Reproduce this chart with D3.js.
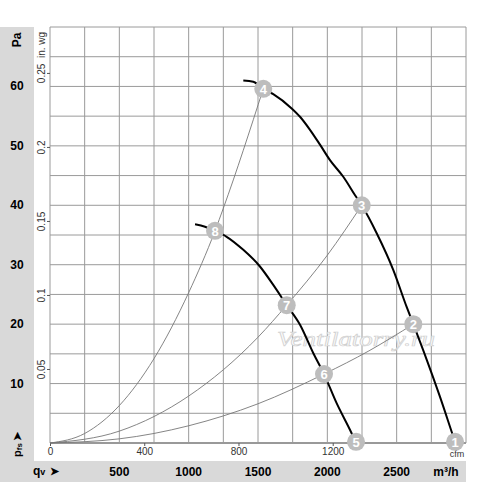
<!DOCTYPE html>
<html>
<head>
<meta charset="utf-8">
<script src="https://cdn.jsdelivr.net/npm/d3@7"></script>
<style>
  body { margin: 0; background: #fff; }
  svg { display: block; font-family: "Liberation Sans", Arial, sans-serif; }
</style>
</head>
<body>
<svg></svg>
<script>
// chart values (flow in m³/h, pressure in Pa)
const flowTicks = [500, 1000, 1500, 2000, 2500];
const paTicks = [10, 20, 30, 40, 50, 60];
const inwgTicks = [0.05, 0.1, 0.15, 0.2, 0.25];
const cfmTicks = [0, 400, 800, 1200];

// fan curves (thick)
const fanHigh = [
  [1394, 61.0], [1466, 60.8], [1538, 59.6], [1610, 58.7], [1743, 56.3],
  [1803, 54.9], [1875, 52.7], [1947, 50.2], [2019, 47.6], [2115, 44.8],
  [2200, 41.7], [2248, 40.0], [2356, 35.3], [2476, 29.1], [2572, 22.9],
  [2620, 20.0], [2717, 14.0], [2812, 7.8], [2908, 1.1], [2921, 0.2]
];
const fanLow = [
  [1046, 36.8], [1118, 36.4], [1190, 35.7], [1274, 34.7], [1394, 32.5],
  [1514, 29.7], [1610, 26.6], [1707, 23.2], [1803, 19.9], [1899, 15.1],
  [1976, 11.6], [2067, 6.7], [2176, 1.6], [2203, 0.2]
];

// system curves (thin)
const sysSteep = [[0, 0], [250, 1.6], [500, 6.3], [750, 14.2], [1000, 25.3], [1190, 35.7], [1250, 39.5], [1538, 59.6]];
const sysMid = [[0, 0], [500, 2.0], [1000, 7.9], [1500, 17.8], [1707, 23.2], [2000, 31.6], [2248, 40.0]];
const sysLow = [[0, 0], [500, 0.7], [1000, 2.9], [1500, 6.6], [1976, 11.6], [2300, 15.5], [2620, 20.0]];

// numbered operating points
const pointIds = [1, 2, 3, 4, 5, 6, 7, 8];
const pointFlow = [2921, 2620, 2248, 1538, 2207, 1976, 1707, 1190];
const pointPa = [0.2, 20.0, 40.0, 59.6, 0.2, 11.6, 23.2, 35.7];

const svgSize = { width: 500, height: 483 };
const plot = { left: 50, top: 27, right: 466, bottom: 443 };

const svg = d3.select("svg")
  .attr("width", svgSize.width)
  .attr("height", svgSize.height);

const x = d3.scaleLinear().domain([0, 3000]).range([plot.left, plot.right]);
const y = d3.scaleLinear().domain([0, 70]).range([plot.bottom, plot.top]);

// gray label panels
svg.append("rect").attr("x", 0).attr("y", 27).attr("width", 34).attr("height", 434).attr("fill", "#d9d9d9");
svg.append("rect").attr("x", 0).attr("y", 461).attr("width", 466).attr("height", 21).attr("fill", "#d9d9d9");

// grid
const grid = svg.append("g").attr("class", "grid");
grid.selectAll("line.v")
  .data(d3.range(0, 3001, 250))
  .enter().append("line")
  .attr("x1", d => x(d)).attr("x2", d => x(d))
  .attr("y1", plot.top).attr("y2", plot.bottom)
  .attr("stroke", "#9a9a9a").attr("stroke-width", 1);
grid.selectAll("line.h")
  .data(d3.range(0, 71, 5))
  .enter().append("line")
  .attr("y1", d => y(d)).attr("y2", d => y(d))
  .attr("x1", plot.left).attr("x2", plot.right)
  .attr("stroke", "#9a9a9a").attr("stroke-width", 1);
svg.append("line")
  .attr("x1", plot.left).attr("x2", plot.right)
  .attr("y1", plot.bottom).attr("y2", plot.bottom)
  .attr("stroke", "#999").attr("stroke-width", 2);

// Pa labels on gray strip
svg.selectAll("text.pa")
  .data(paTicks)
  .enter().append("text")
  .attr("x", 17).attr("y", d => y(d) + 4)
  .attr("text-anchor", "middle")
  .attr("font-size", 12).attr("font-weight", "bold")
  .text(d => d);
svg.append("text")
  .attr("transform", "translate(21,40) rotate(-90)")
  .attr("text-anchor", "middle")
  .attr("font-size", 12).attr("font-weight", "bold")
  .text("Pa");

// "p fs" marker at the bottom of the strip
const pfs = svg.append("text")
  .attr("transform", "translate(21,457) rotate(-90)")
  .attr("font-size", 11).attr("font-weight", "bold");
pfs.append("tspan").text("p");
pfs.append("tspan").attr("font-size", 8).attr("dy", 1).text("fs");
pfs.append("tspan").attr("dy", -1).attr("dx", 2).attr("font-size", 11).text("➤");

// in. wg axis
const inwg = d3.scaleLinear().domain([0, 70 / 249.09]).range([plot.bottom, plot.top]);
svg.append("g")
  .attr("transform", `translate(${plot.left},0)`)
  .call(d3.axisLeft(inwg).tickValues(inwgTicks).tickSize(3).tickFormat(d => d))
  .call(g => g.select(".domain").remove())
  .call(g => g.selectAll("line").attr("stroke", "#555"))
  .call(g => g.selectAll("text")
    .attr("transform", "translate(-5,0) rotate(-90)")
    .attr("x", 0).attr("y", 0).attr("dy", 0)
    .attr("text-anchor", "middle")
    .attr("font-size", 10).attr("font-family", "Liberation Sans, Arial, sans-serif")
    .attr("fill", "#333"));
svg.append("text")
  .attr("transform", "translate(45,45) rotate(-90)")
  .attr("text-anchor", "middle")
  .attr("font-size", 10).attr("fill", "#333")
  .text("in. wg");

// cfm axis
const cfm = d3.scaleLinear().domain([0, 3000 / 1.699]).range([plot.left, plot.right]);
svg.append("g")
  .attr("transform", `translate(0,${plot.bottom})`)
  .call(d3.axisBottom(cfm).tickValues(cfmTicks).tickSize(3).tickPadding(2).tickFormat(d => d))
  .call(g => g.select(".domain").remove())
  .call(g => g.selectAll("line").attr("stroke", "#555"))
  .call(g => g.selectAll("text")
    .attr("font-size", 10).attr("font-family", "Liberation Sans, Arial, sans-serif")
    .attr("fill", "#333"));
svg.append("text")
  .attr("x", 457).attr("y", 457)
  .attr("text-anchor", "middle")
  .attr("font-size", 9).attr("fill", "#333")
  .text("cfm");

// m³/h labels on gray strip
svg.selectAll("text.flow")
  .data(flowTicks)
  .enter().append("text")
  .attr("x", d => x(d)).attr("y", 476)
  .attr("text-anchor", "middle")
  .attr("font-size", 12).attr("font-weight", "bold")
  .text(d => d);
svg.append("text")
  .attr("x", 446).attr("y", 476)
  .attr("text-anchor", "middle")
  .attr("font-size", 12).attr("font-weight", "bold")
  .text("m³/h");
const qv = svg.append("text").attr("x", 33).attr("y", 475)
  .attr("font-size", 12).attr("font-weight", "bold");
qv.append("tspan").text("q");
qv.append("tspan").attr("font-size", 9).text("v");
const qvArrow = svg.append("text").attr("x", 50).attr("y", 475)
  .attr("font-size", 11).attr("font-weight", "bold")
  .text("➤");

// watermark
svg.append("text")
  .attr("x", 277).attr("y", 346)
  .attr("textLength", 158).attr("lengthAdjust", "spacingAndGlyphs")
  .attr("font-family", "Liberation Serif, Times New Roman, serif")
  .attr("font-style", "italic").attr("font-size", 22)
  .attr("fill", "#fafafa").attr("stroke", "#d0d0d0").attr("stroke-width", 0.7)
  .text("Ventilatorry.ru");

// curves
const line = d3.line()
  .x(d => x(d[0]))
  .y(d => y(d[1]))
  .curve(d3.curveMonotoneX);

svg.selectAll("path.sys")
  .data([sysSteep, sysMid, sysLow])
  .enter().append("path")
  .attr("d", line)
  .attr("fill", "none")
  .attr("stroke", "#777")
  .attr("stroke-width", 0.9);

svg.selectAll("path.fan")
  .data([fanHigh, fanLow])
  .enter().append("path")
  .attr("d", line)
  .attr("fill", "none")
  .attr("stroke", "#000")
  .attr("stroke-width", 2);

// numbered markers
const marks = svg.selectAll("g.mark")
  .data(pointIds.map((id, i) => ({ id: id, q: pointFlow[i], p: pointPa[i] })))
  .enter().append("g")
  .attr("transform", d => `translate(${x(d.q)},${y(d.p)})`);
marks.append("circle").attr("r", 9).attr("fill", "#bdbdbd");
marks.append("text")
  .attr("y", 5)
  .attr("text-anchor", "middle")
  .attr("font-size", 13).attr("font-weight", "bold")
  .attr("fill", "#fff")
  .text(d => d.id);
</script>
</body>
</html>
